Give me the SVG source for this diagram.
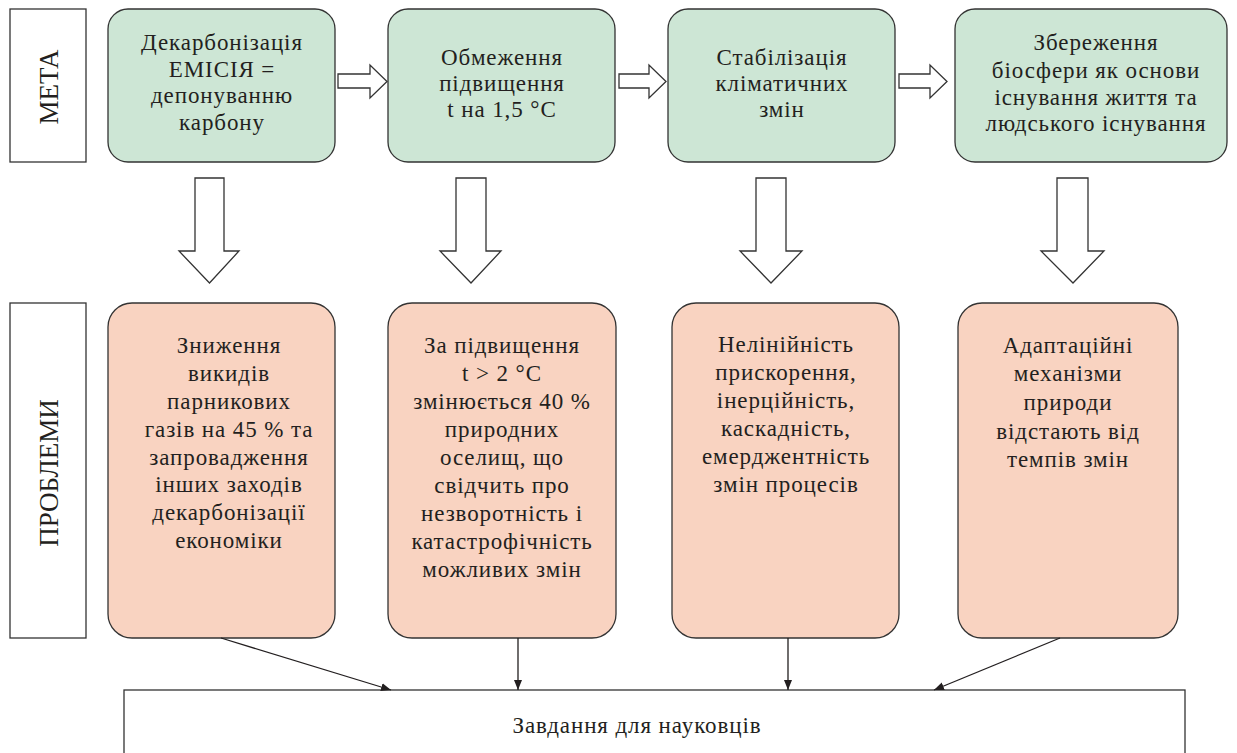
<svg xmlns="http://www.w3.org/2000/svg" width="1237" height="753" viewBox="0 0 1237 753">
<defs>
<style>
.lbl{fill:#fff;stroke:#333;stroke-width:1.3}
.goal{fill:#cde6d5;stroke:#333;stroke-width:1.3}
.prob{fill:#f9d3c1;stroke:#333;stroke-width:1.3}
.blk{fill:#fff;stroke:#333;stroke-width:1.3;stroke-linejoin:miter}
.t{font-family:"Liberation Serif","DejaVu Serif",serif;font-size:23px;letter-spacing:0.9px;fill:#231f20;text-anchor:middle}
.side{font-family:"Liberation Serif","DejaVu Serif",serif;font-size:27px;fill:#231f20;text-anchor:middle}
.con{stroke:#231f20;stroke-width:1.3;fill:none}
</style>
<marker id="ah" viewBox="0 0 10 10" refX="10" refY="5" markerWidth="10" markerHeight="10" markerUnits="userSpaceOnUse" orient="auto">
<path d="M0,1 L10,5 L0,9 Z" fill="#231f20"/>
</marker>
</defs>
<rect width="1237" height="753" fill="#fff"/>

<g id="meta">
<rect class="lbl" x="10" y="9" width="76" height="153"/>
<text class="side" transform="translate(58,87) rotate(-90)">МЕТА</text>
</g>
<g id="problemy">
<rect class="lbl" x="10" y="303" width="76" height="335"/>
<text class="side" transform="translate(58,473) rotate(-90)">ПРОБЛЕМИ</text>
</g>

<g id="goal1">
<rect class="goal" x="108" y="9" width="227" height="153" rx="20"/>
<text class="t" x="222" y="50">Декарбонізація</text>
<text class="t" x="222" y="77">ЕМІСІЯ =</text>
<text class="t" x="222" y="103">депонуванню</text>
<text class="t" x="222" y="130">карбону</text>
</g>
<g id="goal2">
<rect class="goal" x="388" y="9" width="227" height="153" rx="20"/>
<text class="t" x="502" y="65">Обмеження</text>
<text class="t" x="502" y="91">підвищення</text>
<text class="t" x="502" y="117">t на 1,5 °С</text>
</g>
<g id="goal3">
<rect class="goal" x="668" y="9" width="227" height="153" rx="20"/>
<text class="t" x="782" y="65">Стабілізація</text>
<text class="t" x="782" y="91">кліматичних</text>
<text class="t" x="782" y="117">змін</text>
</g>
<g id="goal4">
<rect class="goal" x="955" y="9" width="272" height="153" rx="20"/>
<text class="t" x="1096" y="50">Збереження</text>
<text class="t" x="1096" y="78">біосфери як основи</text>
<text class="t" x="1096" y="105">існування життя та</text>
<text class="t" x="1096" y="131">людського існування</text>
</g>

<g id="prob1">
<rect class="prob" x="108" y="303" width="227" height="335" rx="24"/>
<text class="t" x="229" y="353">Зниження</text>
<text class="t" x="229" y="381">викидів</text>
<text class="t" x="229" y="409">парникових</text>
<text class="t" x="229" y="437">газів на 45 % та</text>
<text class="t" x="229" y="465">запровадження</text>
<text class="t" x="229" y="492">інших заходів</text>
<text class="t" x="229" y="520">декарбонізації</text>
<text class="t" x="229" y="548">економіки</text>
</g>
<g id="prob2">
<rect class="prob" x="388" y="303" width="228" height="335" rx="24"/>
<text class="t" x="502" y="353">За підвищення</text>
<text class="t" x="502" y="381">t &gt; 2 °С</text>
<text class="t" x="502" y="409">змінюється 40 %</text>
<text class="t" x="502" y="437">природних</text>
<text class="t" x="502" y="465">оселищ, що</text>
<text class="t" x="502" y="493">свідчить про</text>
<text class="t" x="502" y="521">незворотність і</text>
<text class="t" x="502" y="549">катастрофічність</text>
<text class="t" x="502" y="577">можливих змін</text>
</g>
<g id="prob3">
<rect class="prob" x="672" y="303" width="227" height="335" rx="24"/>
<text class="t" x="786" y="352">Нелінійність</text>
<text class="t" x="786" y="380">прискорення,</text>
<text class="t" x="786" y="408">інерційність,</text>
<text class="t" x="786" y="436">каскадність,</text>
<text class="t" x="786" y="464">емерджентність</text>
<text class="t" x="786" y="492">змін процесів</text>
</g>
<g id="prob4">
<rect class="prob" x="958" y="303" width="220" height="335" rx="24"/>
<text class="t" x="1068" y="353">Адаптаційні</text>
<text class="t" x="1068" y="381">механізми</text>
<text class="t" x="1068" y="410">природи</text>
<text class="t" x="1068" y="439">відстають від</text>
<text class="t" x="1068" y="467">темпів змін</text>
</g>

<g id="tasks">
<rect class="lbl" x="124" y="690" width="1061" height="80"/>
<text class="t" x="637" y="733">Завдання для науковців</text>
</g>

<g id="connectors">
<polygon class="blk" points="338,74 370,74 370,65 387,81.5 370,98 370,88 338,88"/>
<polygon class="blk" points="619,74 649,74 649,65 666,81.5 649,98 649,88 619,88"/>
<polygon class="blk" points="899,74 930,74 930,65 947,81.5 930,98 930,88 899,88"/>
<polygon class="blk" points="195,178 224,178 224,251 239,251 209.5,283 179,251 195,251"/>
<polygon class="blk" points="456,178 486,178 486,251 501,251 471,283 440,251 456,251"/>
<polygon class="blk" points="756,178 786,178 786,251 802,251 771,283 740,251 756,251"/>
<polygon class="blk" points="1057,178 1088,178 1088,251 1104,251 1073,283 1041,251 1057,251"/>
<line class="con" x1="221" y1="638" x2="391" y2="690" marker-end="url(#ah)"/>
<line class="con" x1="518" y1="638" x2="518" y2="690" marker-end="url(#ah)"/>
<line class="con" x1="788" y1="638" x2="788" y2="690" marker-end="url(#ah)"/>
<line class="con" x1="1060" y1="638" x2="934" y2="690" marker-end="url(#ah)"/>
</g>
</svg>
